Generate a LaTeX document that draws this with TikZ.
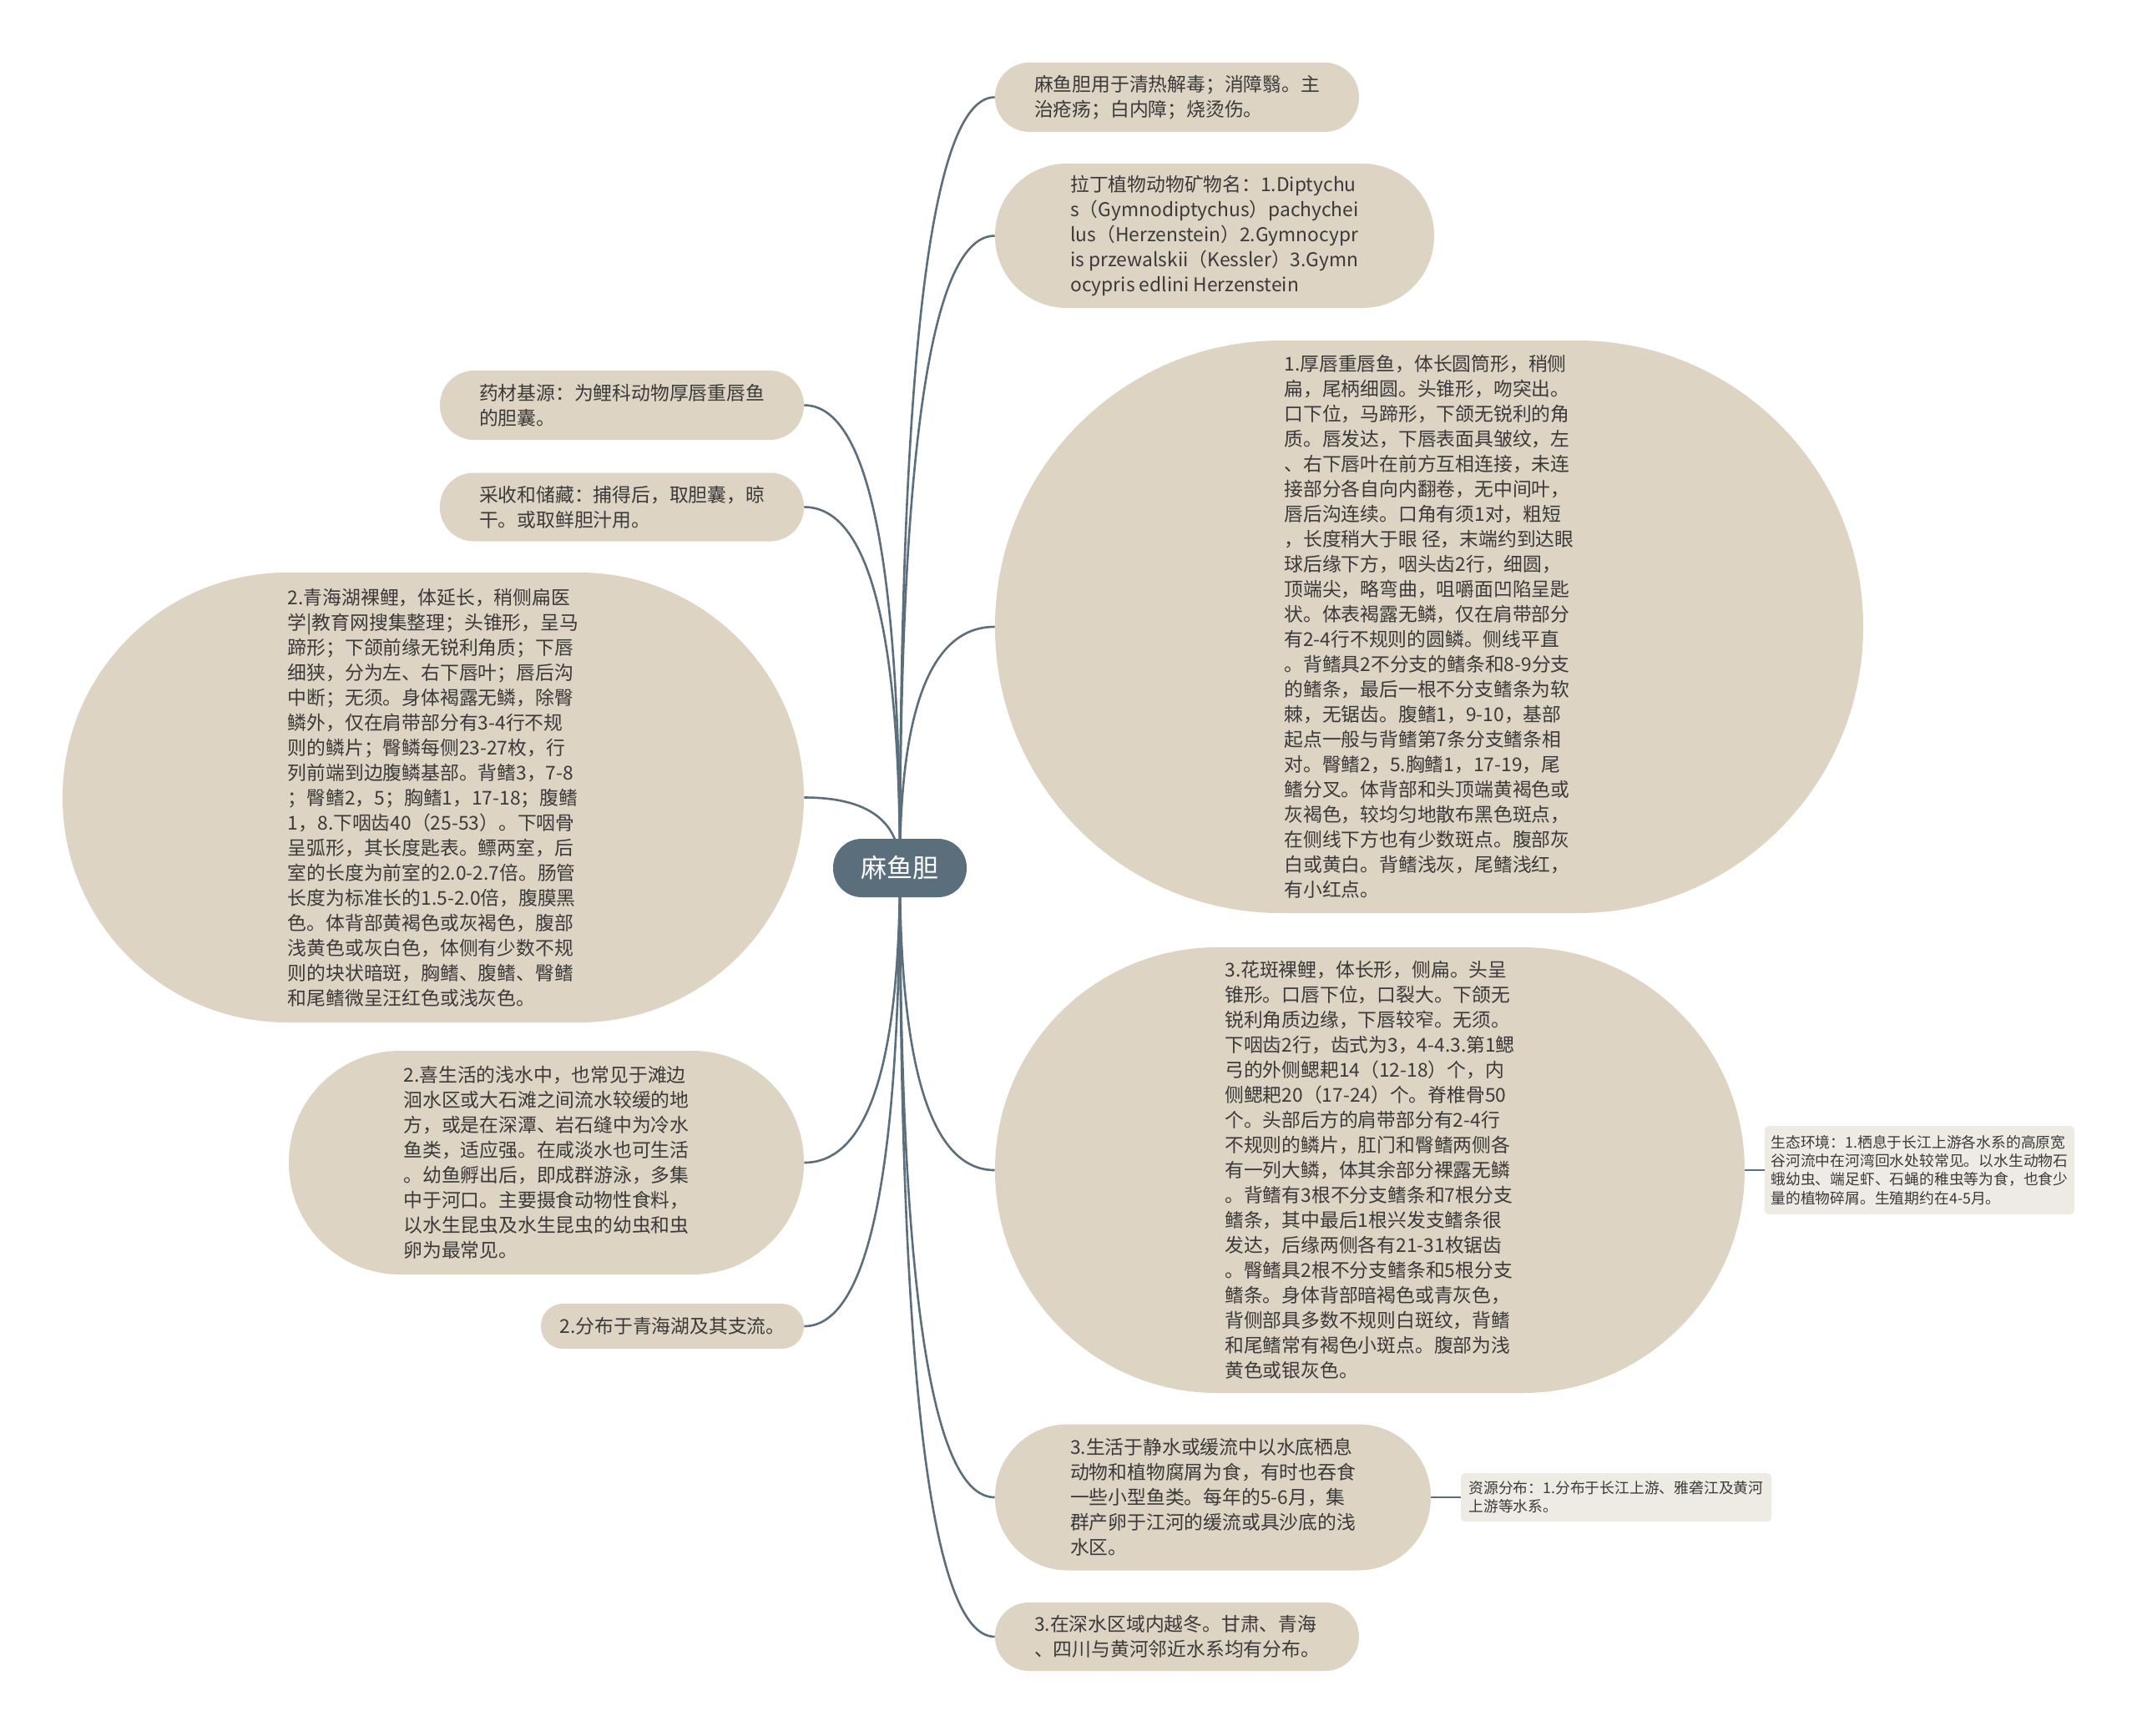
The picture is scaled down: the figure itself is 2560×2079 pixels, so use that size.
\documentclass[tikz,border=0pt]{standalone}
\usepackage{fontspec}
\usepackage{tikz}
\usetikzlibrary{calc,backgrounds}
\newfontfamily\cjk{Noto Sans CJK SC}
\definecolor{mapSlate}{HTML}{5A6E7C}
\definecolor{mapSand}{HTML}{DDD4C4}
\definecolor{mapLinen}{HTML}{EEEBE4}
\definecolor{mapInk}{HTML}{3A3A3A}

\begin{document}
\begin{tikzpicture}[x=0.5pt,y=-0.5pt,
  topic/.style 2 args={fill=mapSand,text=mapInk,align=left,inner sep=0pt,
    font=\cjk\fontsize{11.4}{15}\selectfont,
    minimum width=#1*0.5pt,minimum height=#2*0.5pt,rounded corners=#2*0.25pt-0.3pt},
  note/.style 2 args={fill=mapLinen,text=mapInk,align=left,inner sep=0pt,
    font=\cjk\fontsize{8.9}{11.1}\selectfont,
    minimum width=#1*0.5pt,minimum height=#2*0.5pt,rounded corners=2.5pt},
  centre/.style={fill=mapSlate,text=white,inner sep=0pt,
    font=\cjk\fontsize{15.5}{18}\selectfont,
    minimum width=80pt,minimum height=35pt,rounded corners=17.2pt},
  link/.style={draw=mapSlate,line width=1.3pt},
  branch/.style={link,to path={.. controls ($(\tikztostart)!2/3!(\tikztostart |- \tikztotarget)$)
    and ($(\tikztotarget)!2/3!(\tikztostart |- \tikztotarget)$) .. (\tikztotarget)}}
]
  \useasboundingbox (0,0) rectangle (2560,2079);

  \node[centre] (root) at (1078,1040) {麻鱼胆};

  \node[topic={436}{83}] (r1) at (1410,116.5)
    {麻鱼胆用于清热解毒；消障翳。主\\治疮疡；白内障；烧烫伤。};
  \node[topic={526}{173}] (r2) at (1455,282.5)
    {拉丁植物动物矿物名：1.Diptychu\\s（Gymnodiptychus）pachychei\\lus（Herzenstein）2.Gymnocypr\\is przewalskii（Kessler）3.Gymn\\ocypris edlini Herzenstein};
  \node[topic={1040}{686}] (r3) at (1712,751)
    {1.厚唇重唇鱼，体长圆筒形，稍侧\\扁，尾柄细圆。头锥形，吻突出。\\口下位，马蹄形，下颌无锐利的角\\质。唇发达，下唇表面具皱纹，左\\、右下唇叶在前方互相连接，未连\\接部分各自向内翻卷，无中间叶，\\唇后沟连续。口角有须1对，粗短\\，长度稍大于眼 径，末端约到达眼\\球后缘下方，咽头齿2行，细圆，\\顶端尖，略弯曲，咀嚼面凹陷呈匙\\状。体表褐露无鳞，仅在肩带部分\\有2-4行不规则的圆鳞。侧线平直\\。背鳍具2不分支的鳍条和8-9分支\\的鳍条，最后一根不分支鳍条为软\\棘，无锯齿。腹鳍1，9-10，基部\\起点一般与背鳍第7条分支鳍条相\\对。臀鳍2，5.胸鳍1，17-19，尾\\鳍分叉。体背部和头顶端黄褐色或\\灰褐色，较均匀地散布黑色斑点，\\在侧线下方也有少数斑点。腹部灰\\白或黄白。背鳍浅灰，尾鳍浅红，\\有小红点。};
  \node[topic={898}{534}] (r4) at (1641,1402)
    {3.花斑裸鲤，体长形，侧扁。头呈\\锥形。口唇下位，口裂大。下颌无\\锐利角质边缘，下唇较窄。无须。\\下咽齿2行，齿式为3，4-4.3.第1鳃\\弓的外侧鳃耙14（12-18）个，内\\侧鳃耙20（17-24）个。脊椎骨50\\个。头部后方的肩带部分有2-4行\\不规则的鳞片，肛门和臀鳍两侧各\\有一列大鳞，体其余部分裸露无鳞\\。背鳍有3根不分支鳍条和7根分支\\鳍条，其中最后1根兴发支鳍条很\\发达，后缘两侧各有21-31枚锯齿\\。臀鳍具2根不分支鳍条和5根分支\\鳍条。身体背部暗褐色或青灰色，\\背侧部具多数不规则白斑纹，背鳍\\和尾鳍常有褐色小斑点。腹部为浅\\黄色或银灰色。};
  \node[topic={522}{175}] (r5) at (1453,1794)
    {3.生活于静水或缓流中以水底栖息\\动物和植物腐屑为食，有时也吞食\\一些小型鱼类。每年的5-6月，集\\群产卵于江河的缓流或具沙底的浅\\水区。};
  \node[topic={436}{82}] (r6) at (1410,1961)
    {3.在深水区域内越冬。甘肃、青海\\、四川与黄河邻近水系均有分布。};

  \node[note={371}{106}] (n1) at (2299.5,1402)
    {生态环境：1.栖息于长江上游各水系的高原宽\\谷河流中在河湾回水处较常见。以水生动物石\\蛾幼虫、端足虾、石蝇的稚虫等为食，也食少\\量的植物碎屑。生殖期约在4-5月。};
  \node[note={372}{58}] (n2) at (1936,1794)
    {资源分布：1.分布于长江上游、雅砻江及黄河\\上游等水系。};

  \node[topic={436}{83}] (l1) at (745,485.5)
    {药材基源：为鲤科动物厚唇重唇鱼\\的胆囊。};
  \node[topic={436}{82}] (l2) at (745,607.5)
    {采收和储藏：捕得后，取胆囊，晾\\干。或取鲜胆汁用。};
  \node[topic={888}{539}] (l3) at (519,955.5)
    {2.青海湖裸鲤，体延长，稍侧扁医\\学|教育网搜集整理；头锥形，呈马\\蹄形；下颌前缘无锐利角质；下唇\\细狭，分为左、右下唇叶；唇后沟\\中断；无须。身体褐露无鳞，除臀\\鳞外，仅在肩带部分有3-4行不规\\则的鳞片；臀鳞每侧23-27枚，行\\列前端到边腹鳞基部。背鳍3，7-8\\；臀鳍2，5；胸鳍1，17-18；腹鳍\\1，8.下咽齿40（25-53）。下咽骨\\呈弧形，其长度匙表。鳔两室，后\\室的长度为前室的2.0-2.7倍。肠管\\长度为标准长的1.5-2.0倍，腹膜黑\\色。体背部黄褐色或灰褐色，腹部\\浅黄色或灰白色，体侧有少数不规\\则的块状暗斑，胸鳍、腹鳍、臀鳍\\和尾鳍微呈汪红色或浅灰色。};
  \node[topic={617}{268}] (l4) at (654.5,1393)
    {2.喜生活的浅水中，也常见于滩边\\洄水区或大石滩之间流水较缓的地\\方，或是在深潭、岩石缝中为冷水\\鱼类，适应强。在咸淡水也可生活\\。幼鱼孵出后，即成群游泳，多集\\中于河口。主要摄食动物性食料，\\以水生昆虫及水生昆虫的幼虫和虫\\卵为最常见。};
  \node[topic={315}{54}] (l5) at (805.5,1589)
    {2.分布于青海湖及其支流。};

  \begin{scope}[on background layer]
    \fill[white] (0,0) rectangle (2560,2079);
    \foreach \kid in {r1,r2,r3,r4,r5,r6}
      \draw[branch] (root.center) to (\kid.west);
    \foreach \kid in {l1,l2,l3,l4,l5}
      \draw[branch] (root.center) to (\kid.east);
    \draw[link] (r4) -- (n1);
    \draw[link] (r5) -- (n2);
  \end{scope}
\end{tikzpicture}
\end{document}
